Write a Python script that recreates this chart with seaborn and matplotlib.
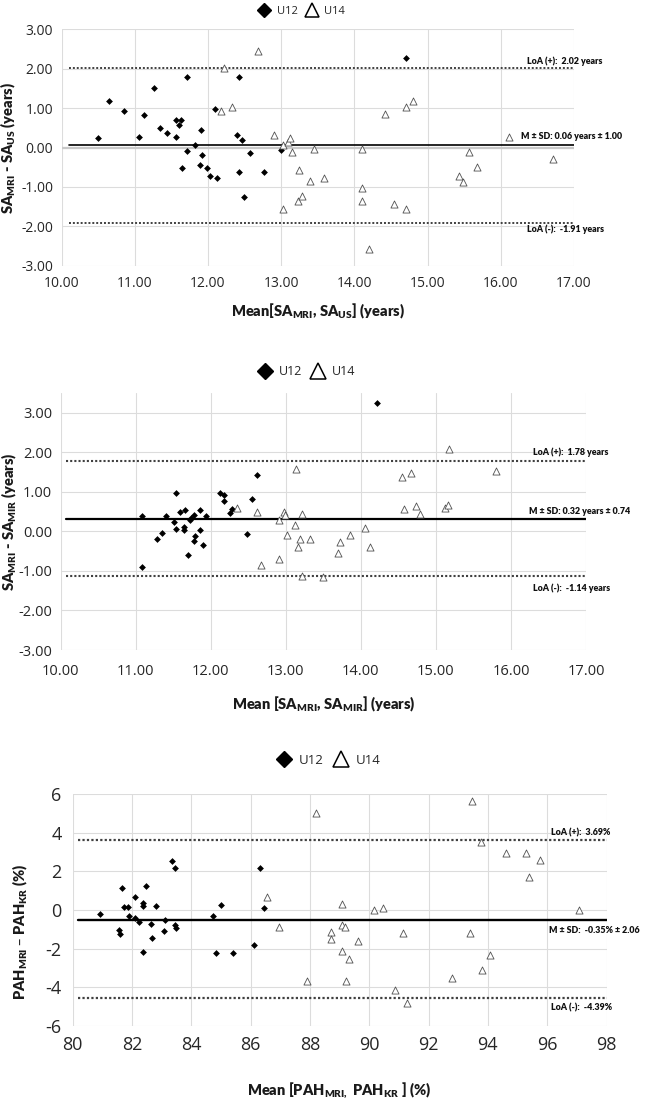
import matplotlib
matplotlib.use("Agg")
import matplotlib.pyplot as plt
import seaborn as sns
import pandas as pd
from matplotlib.lines import Line2D

sns.set_style("white")
plt.rcParams["font.family"] = ["Open Sans", "DejaVu Sans"]
plt.rcParams["mathtext.default"] = "regular"

# ---------------- data ----------------
groups = ["U12", "U14"]

# Panel 1: SA_MRI vs SA_US
p1_u12_x = [10.50, 10.65, 10.85, 11.06, 11.13, 11.27, 11.35, 11.44, 11.57, 11.57, 11.61, 11.63,
            11.65, 11.71, 11.72, 11.83, 11.89, 11.91, 11.92, 11.99, 12.03, 12.10, 12.12, 12.40,
            12.42, 12.43, 12.46, 12.49, 12.57, 12.77, 13.00, 14.70]
p1_u12_y = [0.24, 1.19, 0.92, 0.27, 0.83, 1.50, 0.49, 0.38, 0.69, 0.26, 0.57, 0.71,
            -0.51, -0.10, 1.80, 0.07, -0.45, 0.45, -0.19, -0.51, -0.72, 0.97, -0.78, 0.32,
            1.80, -0.61, 0.20, -1.25, -0.14, -0.62, -0.06, 2.26]
p1_u14_x = [12.18, 12.22, 12.33, 12.69, 12.90, 13.03, 13.03, 13.09, 13.12, 13.15, 13.23, 13.24,
            13.28, 13.39, 13.45, 13.58, 14.10, 14.10, 14.11, 14.20, 14.42, 14.54, 14.70, 14.70,
            14.80, 15.43, 15.48, 15.56, 15.67, 16.11, 16.71]
p1_u14_y = [0.93, 2.01, 1.04, 2.46, 0.32, 0.07, -1.56, 0.14, 0.23, -0.12, -1.36, -0.57,
            -1.24, -0.86, -0.04, -0.77, -1.03, -1.37, -0.03, -2.58, 0.85, -1.43, 1.04, -1.56,
            1.18, -0.72, -0.88, -0.11, -0.49, 0.27, -0.28]
p1_lines = [2.02, 0.06, -1.91]
p1_texts = ["LoA (+):  2.02 years", "M ± SD: 0.06 years ± 1.00", "LoA (-):  -1.91 years"]

# Panel 2: SA_MRI vs SA_MIR
p2_u12_x = [11.08, 11.08, 11.28, 11.35, 11.40, 11.51, 11.53, 11.54, 11.59, 11.64, 11.64, 11.66,
            11.69, 11.72, 11.73, 11.78, 11.79, 11.78, 11.85, 11.85, 11.89, 11.93, 12.12, 12.17,
            12.17, 12.25, 12.28, 12.48, 12.55, 12.62, 14.21]
p2_u12_y = [0.39, -0.91, -0.18, -0.04, 0.39, 0.23, 0.06, 0.98, 0.49, 0.11, 0.04, 0.54,
            -0.60, 0.29, 0.35, 0.42, -0.12, -0.24, 0.54, 0.03, -0.34, 0.39, 0.96, 0.92,
            0.78, 0.47, 0.57, -0.06, 0.82, 1.42, 3.25]
p2_u14_x = [12.35, 12.61, 12.67, 12.91, 12.91, 12.97, 12.99, 13.01, 13.12, 13.14, 13.16, 13.19,
            13.21, 13.22, 13.32, 13.49, 13.70, 13.72, 13.86, 14.05, 14.12, 14.55, 14.57, 14.67,
            14.74, 14.79, 15.12, 15.16, 15.18, 15.80]
p2_u14_y = [0.60, 0.50, -0.85, 0.29, -0.70, 0.50, 0.41, -0.10, 0.16, 1.58, -0.40, -0.20,
            0.44, -1.13, -0.20, -1.16, -0.55, -0.26, -0.08, 0.08, -0.39, 1.38, 0.57, 1.47,
            0.64, 0.45, 0.60, 0.67, 2.08, 1.52]
p2_lines = [1.78, 0.32, -1.14]
p2_texts = ["LoA (+):  1.78 years", "M ± SD: 0.32 years ± 0.74", "LoA (-):  -1.14 years"]

# Panel 3: PAH_MRI vs PAH_KR
p3_u12_x = [80.93, 81.56, 81.60, 81.66, 81.74, 81.88, 81.92, 82.09, 82.11, 82.25, 82.36, 82.38,
            82.39, 82.49, 82.64, 82.69, 82.82, 83.07, 83.12, 83.37, 83.44, 83.47, 83.48, 84.75,
            84.83, 85.01, 85.41, 86.10, 86.31, 86.45]
p3_u12_y = [-0.21, -1.05, -1.22, 1.16, 0.16, 0.17, -0.29, 0.66, -0.43, -0.60, 0.34, -2.16,
            0.21, 1.22, -0.74, -1.47, 0.22, -1.10, -0.52, 2.55, -0.79, 2.16, -0.91, -0.33,
            -2.24, 0.24, -2.24, -1.79, 2.16, 0.09]
p3_u14_x = [86.57, 86.96, 87.90, 88.20, 88.72, 88.72, 89.09, 89.09, 89.09, 89.20, 89.23, 89.31,
            89.61, 90.15, 90.48, 90.87, 91.15, 91.26, 92.78, 93.41, 93.48, 93.76, 93.81, 94.07,
            94.60, 95.30, 95.39, 95.77, 97.07]
p3_u14_y = [0.66, -0.86, -3.69, 5.03, -1.14, -1.52, 0.31, -0.79, -2.12, -0.90, -3.69, -2.52,
            -1.60, 0.00, 0.10, -4.16, -1.19, -4.79, -3.50, -1.19, 5.62, 3.53, -3.12, -2.31,
            2.97, 2.93, 1.72, 2.59, 0.00]
p3_lines = [3.62, -0.52, -4.55]
p3_texts = ["LoA (+):  3.69%", "M ± SD:  -0.35% ± 2.06", "LoA (-):  -4.39%"]

sa_xticks = [10, 11, 12, 13, 14, 15, 16, 17]
sa_yticks = [-3, -2, -1, 0, 1, 2, 3]
pah_xticks = [80, 82, 84, 86, 88, 90, 92, 94, 96, 98]
pah_yticks = [-6, -4, -2, 0, 2, 4, 6]

# ---------------- figure ----------------
W, H = 649, 1098
fig = plt.figure(figsize=(W / 100, H / 100), dpi=100)


def px_axes(left, top, right, bottom):
    return fig.add_axes([left / W, 1 - bottom / H, (right - left) / W, (bottom - top) / H])


TITLE_FONT = ["Lato", "DejaVu Sans"]
NOTE_FONT = ["Lato", "DejaVu Sans"]


def panel(ax, x12, y12, x14, y14, lines, texts, xlim, ylim, xticks, yticks, fmt,
          tick_fs, xpad, xlabel, ylabel, xlab_y, ylab_x, ylab_yc, text_x, text_dy,
          mean_lw, dot_lw, u12_s, u14_s, line_x0):
    df = pd.DataFrame({
        "x": list(x12) + list(x14),
        "y": list(y12) + list(y14),
        "group": [groups[0]] * len(x12) + [groups[1]] * len(x14),
    })
    sns.scatterplot(data=df[df.group == "U12"], x="x", y="y", marker="D", s=u12_s,
                    color="black", linewidth=0, ax=ax, zorder=4, legend=False)
    sns.scatterplot(data=df[df.group == "U14"], x="x", y="y", marker="^", s=u14_s,
                    color="#505050", facecolor="white", edgecolor="#505050",
                    linewidth=0.6, ax=ax, zorder=4, legend=False)
    ax.set_xlim(*xlim)
    ax.set_ylim(*ylim)
    x0 = (line_x0 - xlim[0]) / (xlim[1] - xlim[0])
    hi, mean, lo = lines
    ax.axhline(hi, xmin=x0, xmax=1, color="#404040", lw=dot_lw, ls=(0, (1, 1)), zorder=3)
    ax.axhline(lo, xmin=x0, xmax=1, color="#404040", lw=dot_lw, ls=(0, (1, 1)), zorder=3)
    ax.axhline(mean, xmin=x0, xmax=1, color="black", lw=mean_lw, zorder=3)
    tr = ax.get_yaxis_transform()
    for (yv, t, dy, tx) in zip(lines, texts, text_dy, text_x):
        ax.annotate(t, xy=(tx, yv), xycoords=tr, xytext=(0, dy), textcoords="offset points",
                    ha="left", va="center", fontsize=6.4, fontweight="heavy",
                    family=NOTE_FONT, color="#111111", annotation_clip=False, zorder=5)
    ax.set_xticks(xticks)
    ax.set_yticks(yticks)
    ax.set_xticklabels([fmt.format(v) for v in xticks])
    ax.set_yticklabels([fmt.format(v) for v in yticks])
    ax.tick_params(axis="both", length=0, labelsize=tick_fs, colors="#262626")
    ax.tick_params(axis="x", pad=xpad)
    ax.tick_params(axis="y", pad=tick_fs * 0.6)
    ax.grid(True, color="#dcdcdc", lw=0.8)
    ax.set_axisbelow(True)
    for sp in ax.spines.values():
        sp.set_visible(False)
    ax.set_xlabel(xlabel, fontsize=10.5, fontweight="heavy", family=TITLE_FONT, color="#1a1a1a")
    ax.set_ylabel(ylabel, fontsize=10.5, fontweight="heavy", family=TITLE_FONT, color="#1a1a1a")
    ax.xaxis.set_label_coords(0.5, xlab_y)
    ax.yaxis.set_label_coords(ylab_x, ylab_yc)


def add_legend(cx, cy, fs, ms):
    handles = [
        Line2D([], [], marker="D", ls="none", color="black", markersize=ms * 0.72),
        Line2D([], [], marker="^", ls="none", markerfacecolor="white",
               markeredgecolor="black", markeredgewidth=1.1, markersize=ms),
    ]
    fig.legend(handles, groups, loc="center", bbox_to_anchor=(cx / W, 1 - cy / H),
               ncol=2, frameon=False, fontsize=fs, handletextpad=0.6, columnspacing=0.8,
               handlelength=1.0, borderpad=0)


ax1 = px_axes(61.5, 29.3, 574, 265.7)
panel(ax1, p1_u12_x, p1_u12_y, p1_u14_x, p1_u14_y, p1_lines, p1_texts,
      (10, 17), (-3, 3), sa_xticks, sa_yticks, "{:.2f}", 10, 7.5,
      r"Mean[SA$_{MRI}$, SA$_{US}$] (years)", r"SA$_{MRI}$ - SA$_{US}$ (years)",
      -0.152, -0.085, 0.5, [0.908, 0.897, 0.908], [5, 6.5, -5], 1.2, 1.4, 12, 26, 10.1)
ax1.axhline(0, color="#c8c8c8", lw=1.6, zorder=1)

ax2 = px_axes(60.7, 393, 586, 650)
panel(ax2, p2_u12_x, p2_u12_y, p2_u14_x, p2_u14_y, p2_lines, p2_texts,
      (10, 17), (-3, 3.5), sa_xticks, sa_yticks, "{:.2f}", 10.5, 10,
      r"Mean [SA$_{MRI}$, SA$_{MIR}$] (years)", r"SA$_{MRI}$ - SA$_{MIR}$ (years)",
      -0.175, -0.08, 0.5, [0.899, 0.891, 0.899], [6, 5, -8.5], 1.6, 1.5, 12, 26, 10.07)

ax3 = px_axes(72.5, 794, 606.6, 1026)
panel(ax3, p3_u12_x, p3_u12_y, p3_u14_x, p3_u14_y, p3_lines, p3_texts,
      (80, 98), (-6, 6), pah_xticks, pah_yticks, "{:d}", 13, 7.5,
      r"Mean [PAH$_{MRI,}$ PAH$_{KR}$ ] (%)", r"PAH$_{MRI}$ – PAH$_{KR}$ (%)",
      -0.232, -0.08, 0.405, [0.895, 0.892, 0.895], [5.5, -7.5, -7], 1.7, 1.6, 12, 26, 80.2)

add_legend(302, 11, 8, 10)
add_legend(307, 372, 9, 11)
add_legend(329, 760, 9.5, 11)

fig.savefig("out.png", dpi=100)
